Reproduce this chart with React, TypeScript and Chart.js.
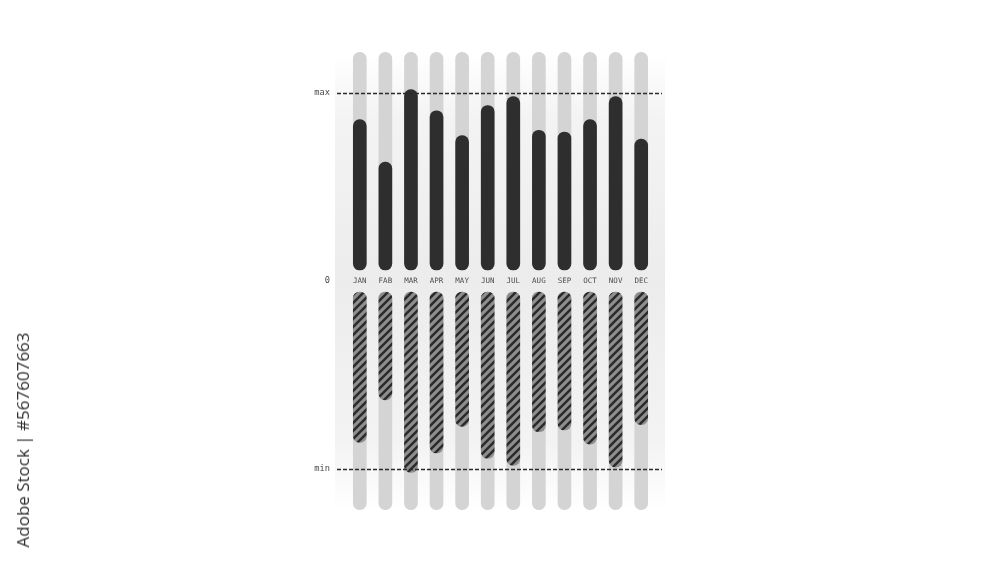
import React, { useEffect, useRef } from "react";
import { Chart, registerables } from "chart.js";

Chart.register(...registerables);

const MONTHS = ["JAN", "FAB", "MAR", "APR", "MAY", "JUN", "JUL", "AUG", "SEP", "OCT", "NOV", "DEC"];
const UPPER_VALUES = [85, 61, 102, 90, 76, 93, 98, 79, 78, 85, 98, 74];
const LOWER_VALUES = [-85, -61, -102, -91, -76, -94, -98, -79, -78, -86, -99, -75];
const TRACK_LENGTH = 123;
const LIMIT = 100;
const GAP = 6.2;
const Y_LABELS = { max: "max", zero: "0", min: "min" };

function makeHatch(): CanvasPattern | string {
  const c = document.createElement("canvas");
  c.width = 8;
  c.height = 8;
  const g = c.getContext("2d");
  if (!g) return "#8c8c8c";
  g.fillStyle = "#8e8e8e";
  g.fillRect(0, 0, 8, 8);
  g.strokeStyle = "#2b2b2b";
  g.lineWidth = 2.5;
  g.beginPath();
  g.moveTo(-2, 10);
  g.lineTo(10, -2);
  g.moveTo(-6, 6);
  g.lineTo(6, -6);
  g.moveTo(2, 14);
  g.lineTo(14, 2);
  g.stroke();
  const p = g.createPattern(c, "repeat");
  return p || "#8c8c8c";
}

const panelPlugin = {
  id: "panel",
  beforeDraw(chart: any) {
    const { ctx, chartArea } = chart;
    const x0 = chartArea.left - 12;
    const x1 = chartArea.right + 11;
    const y0 = 55;
    const y1 = 508;
    ctx.save();
    const gr = ctx.createLinearGradient(0, y0, 0, y1);
    gr.addColorStop(0, "rgba(240,240,240,0)");
    gr.addColorStop(0.15, "rgba(240,240,240,0.8)");
    gr.addColorStop(0.5, "rgba(236,236,236,1)");
    gr.addColorStop(0.85, "rgba(240,240,240,0.8)");
    gr.addColorStop(1, "rgba(240,240,240,0)");
    ctx.fillStyle = gr;
    ctx.fillRect(x0, y0, x1 - x0, y1 - y0);
    ctx.restore();
  },
};

const limitLinesPlugin = {
  id: "limitLines",
  afterDatasetsDraw(chart: any) {
    const { ctx, chartArea, scales } = chart;
    const y = scales.y;
    ctx.save();
    ctx.strokeStyle = "#2a2a2a";
    ctx.lineWidth = 1.3;
    ctx.setLineDash([4, 2]);
    [GAP + LIMIT, -(GAP + LIMIT)].forEach((v) => {
      const py = Math.round(y.getPixelForValue(v)) + 0.5;
      ctx.beginPath();
      ctx.moveTo(chartArea.left - 10, py);
      ctx.lineTo(chartArea.right + 8, py);
      ctx.stroke();
    });
    ctx.restore();
  },
};

export default function App() {
  const ref = useRef<HTMLCanvasElement | null>(null);

  useEffect(() => {
    if (!ref.current) return;
    const hatch = makeHatch();
    const common = {
      barThickness: 13,
      grouped: false,
      borderRadius: 7,
      borderSkipped: false as const,
      borderWidth: 0,
    };
    const chart = new Chart(ref.current, {
      type: "bar",
      data: {
        labels: MONTHS,
        datasets: [
          {
            ...common,
            label: "upper",
            data: UPPER_VALUES.map((v) => [GAP, GAP + v]) as any,
            backgroundColor: "#2e2e2e",
            order: 1,
          },
          {
            ...common,
            label: "lower",
            data: LOWER_VALUES.map((v) => [-GAP, -GAP + v]) as any,
            backgroundColor: hatch as any,
            order: 1,
          },
          {
            ...common,
            label: "trackUp",
            data: MONTHS.map(() => [GAP, GAP + TRACK_LENGTH]) as any,
            backgroundColor: "#d4d4d4",
            order: 2,
          },
          {
            ...common,
            label: "trackDown",
            data: MONTHS.map(() => [-GAP, -GAP - TRACK_LENGTH]) as any,
            backgroundColor: "#d4d4d4",
            order: 2,
          },
        ],
      },
      options: {
        responsive: false,
        animation: false,
        devicePixelRatio: 1,
        layout: { padding: { left: 287, right: 346, top: 51, bottom: 52 } },
        plugins: { legend: { display: false }, tooltip: { enabled: false } },
        scales: {
          x: {
            position: { y: 0 } as any,
            grid: { display: false, drawTicks: false },
            border: { display: false },
            ticks: {
              padding: -4.5,
              color: "#4d4d4d",
              font: { family: "DejaVu Sans Mono", size: 7.5 },
              maxRotation: 0,
              autoSkip: false,
            },
          },
          y: {
            min: -130,
            max: 130,
            grid: { display: false, drawTicks: false },
            border: { display: false },
            afterFit: (scale: any) => {
              scale.width = 60;
            },
            afterBuildTicks: (scale: any) => {
              scale.ticks = [{ value: -(GAP + LIMIT) }, { value: 0 }, { value: GAP + LIMIT }];
            },
            ticks: {
              padding: 17,
              color: "#4a4a4a",
              font: { family: "DejaVu Sans Mono", size: 8.7 },
              callback: (v: any) => (v > 0 ? Y_LABELS.max : v < 0 ? Y_LABELS.min : Y_LABELS.zero),
            },
          },
        },
      },
      plugins: [panelPlugin, limitLinesPlugin],
    });
    return () => chart.destroy();
  }, []);

  return (
    <div style={{ position: "fixed", left: 0, top: 0, width: 1000, height: 563, background: "#ffffff", overflow: "hidden" }}>
      <canvas ref={ref} width={1000} height={563} style={{ position: "absolute", left: 0, top: 0, width: 1000, height: 563 }} />
      <div
        style={{
          position: "absolute",
          left: 23,
          top: 440,
          transform: "translate(-50%, -50%) rotate(-90deg)",
          whiteSpace: "nowrap",
          fontFamily: "'Open Sans', sans-serif",
          fontSize: 17,
          color: "#2f2f2f",
          lineHeight: "20px",
        }}
      >
        Adobe Stock | #567607663
      </div>
    </div>
  );
}
